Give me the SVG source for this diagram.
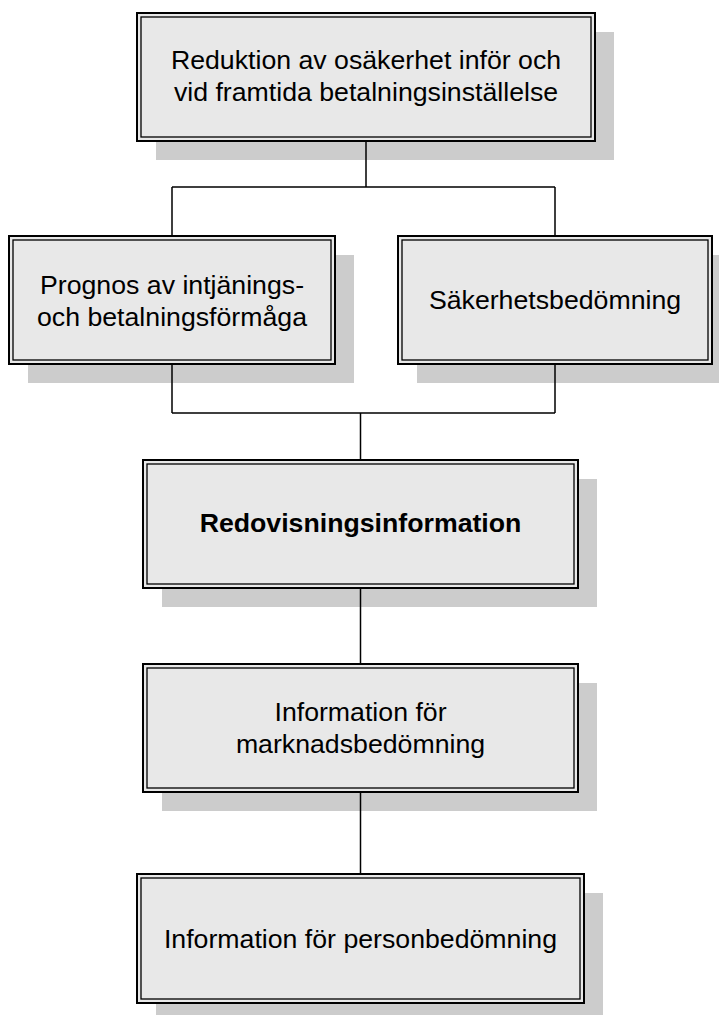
<svg xmlns="http://www.w3.org/2000/svg" width="719" height="1015" viewBox="0 0 719 1015">
  <style>
    .shadow { fill: #cccccc; stroke: none; }
    .box { fill: #e8e8e8; stroke: #000000; stroke-width: 2; }
    .inner { fill: none; stroke: #000000; stroke-width: 1.3; }
    .label { font-family: "Liberation Sans", Arial, sans-serif; font-size: 26.7px; fill: #000000; text-anchor: middle; }
    .bold { font-weight: bold; }
    .wire { fill: none; stroke: #000000; stroke-width: 1.5; }
  </style>
  <rect width="719" height="1015" fill="#ffffff"/>

  <g id="node-reduktion">
    <rect class="shadow" x="156" y="32" width="458" height="128"/>
    <rect class="box" x="137" y="13" width="458" height="128"/>
    <rect class="inner" x="141" y="17" width="450" height="120"/>
    <text class="label" x="366" y="68.5">Reduktion av osäkerhet inför och</text>
    <text class="label" x="366" y="100.5">vid framtida betalningsinställelse</text>
  </g>

  <g id="node-prognos">
    <rect class="shadow" x="28" y="255" width="326" height="128"/>
    <rect class="box" x="9" y="236" width="326" height="128"/>
    <rect class="inner" x="13" y="240" width="318" height="120"/>
    <text class="label" x="172" y="294">Prognos av intjänings-</text>
    <text class="label" x="172" y="325.5">och betalningsförmåga</text>
  </g>

  <g id="node-sakerhet">
    <rect class="shadow" x="417" y="255" width="314" height="128"/>
    <rect class="box" x="398" y="236" width="314" height="128"/>
    <rect class="inner" x="402" y="240" width="306" height="120"/>
    <text class="label" x="555" y="309">Säkerhetsbedömning</text>
  </g>

  <g id="node-redovisning">
    <rect class="shadow" x="162" y="479" width="435" height="128"/>
    <rect class="box" x="143" y="460" width="435" height="128"/>
    <rect class="inner" x="147" y="464" width="427" height="120"/>
    <text class="label bold" x="360.5" y="532">Redovisningsinformation</text>
  </g>

  <g id="node-marknad">
    <rect class="shadow" x="162" y="683" width="435" height="128"/>
    <rect class="box" x="143" y="664" width="435" height="128"/>
    <rect class="inner" x="147" y="668" width="427" height="120"/>
    <text class="label" x="360.5" y="721">Information för</text>
    <text class="label" x="360.5" y="753">marknadsbedömning</text>
  </g>

  <g id="node-person">
    <rect class="shadow" x="156" y="893" width="447" height="129"/>
    <rect class="box" x="137" y="874" width="447" height="129"/>
    <rect class="inner" x="141" y="878" width="439" height="121"/>
    <text class="label" x="360.5" y="947.5">Information för personbedömning</text>
  </g>

  <!-- connectors, drawn over the drop shadows -->
  <g id="connectors">
    <path class="wire" d="M366,142 V187 M172,187 H555 M172,187 V235 M555,187 V235"/>
    <path class="wire" d="M172,365 V413 M555,365 V413 M172,413 H555 M360.5,413 V459"/>
    <path class="wire" d="M360.5,589 V663"/>
    <path class="wire" d="M360.5,793 V873"/>
  </g>
</svg>
